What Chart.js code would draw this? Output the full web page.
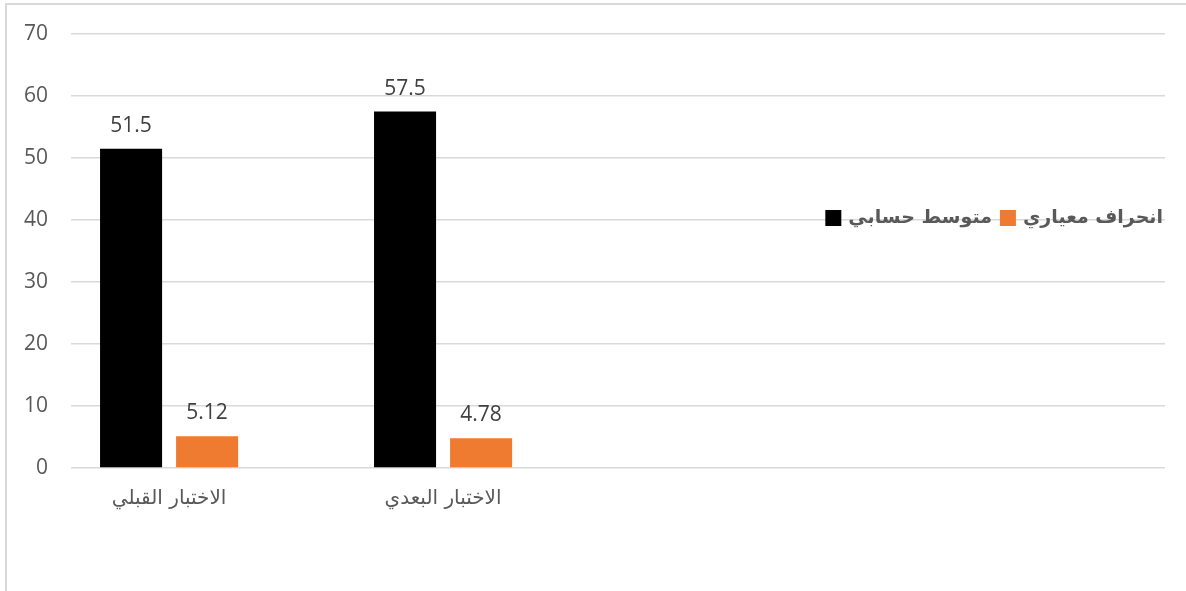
<!DOCTYPE html>
<html>
<head>
<meta charset="utf-8">
<script src="https://cdn.jsdelivr.net/npm/chart.js@4/dist/chart.umd.min.js"></script>
<style>
  html, body { margin: 0; padding: 0; background: #fff; }
  body { width: 1186px; height: 591px; overflow: hidden; position: relative; }
  .frame {
    position: absolute; left: 5px; top: 3px;
    border-top: 2px solid #d9d9d9; border-left: 2px solid #d9d9d9;
  }
  canvas { display: block; }
</style>
</head>
<body>
<div class="frame"><canvas id="chart" width="1179" height="586"></canvas></div>
<script>
const categories = ["الاختبار القبلي", "الاختبار البعدي"];
const seriesNames = ["متوسط حسابي", "انحراف معياري"];
const meanValues = [51.5, 57.5];
const sdValues = [5.12, 4.78];
const yTicks = [0, 10, 20, 30, 40, 50, 60, 70];

const TEXT = "#595959";
const GRID = "#d9d9d9";

// values written above each bar
const valueLabels = {
  id: "valueLabels",
  afterDatasetsDraw(chart) {
    const { ctx } = chart;
    ctx.save();
    ctx.font = '21px "Open Sans"';
    ctx.fillStyle = "#404040";
    ctx.textAlign = "center";
    ctx.textBaseline = "alphabetic";
    chart.data.datasets.forEach((ds, i) => {
      chart.getDatasetMeta(i).data.forEach((bar, j) => {
        ctx.fillText(String(ds.data[j].y), bar.x, bar.y - 17);
      });
    });
    ctx.restore();
  }
};

// legend sits inside the plot, right aligned, like the original
const insideLegend = {
  id: "insideLegend",
  afterDraw(chart) {
    const { ctx, chartArea } = chart;
    const box = 16, gap = 7, itemGap = 8;
    ctx.save();
    ctx.font = 'bold 19px "DejaVu Sans"';
    ctx.textBaseline = "middle";
    ctx.textAlign = "left";
    const items = chart.data.datasets.map(ds => ({
      text: ds.label,
      color: ds.backgroundColor,
      w: ctx.measureText(ds.label).width
    }));
    let total = itemGap * (items.length - 1);
    items.forEach(it => { total += box + gap + it.w; });
    let x = chartArea.right - 2 - total;
    const y = chartArea.top + 184;
    items.forEach(it => {
      ctx.fillStyle = it.color;
      ctx.fillRect(x, y - box / 2, box, box);
      x += box + gap;
      ctx.fillStyle = TEXT;
      ctx.fillText(it.text, x, y);
      x += it.w + itemGap;
    });
    ctx.restore();
  }
};

new Chart(document.getElementById("chart"), {
  type: "bar",
  data: {
    datasets: [
      {
        label: seriesNames[0],
        data: meanValues.map((v, i) => ({ x: i, y: v })),
        backgroundColor: "#000000"
      },
      {
        label: seriesNames[1],
        data: sdValues.map((v, i) => ({ x: i, y: v })),
        backgroundColor: "#EE7B30"
      }
    ]
  },
  options: {
    responsive: false,
    animation: false,
    categoryPercentage: 0.555,
    barPercentage: 0.816,
    layout: { padding: { top: 29, right: 21, left: 0, bottom: 63 } },
    scales: {
      x: {
        type: "linear",
        offset: false,
        min: -0.358,
        max: 3.635,
        grid: { display: false, offset: false },
        border: { display: false },
        ticks: {
          stepSize: 1,
          includeBounds: false,
          autoSkip: false,
          maxRotation: 0,
          padding: 11,
          color: TEXT,
          font: { family: "DejaVu Sans", size: 20 },
          callback: v => categories[v] || ""
        },
        afterFit: s => { s.height = 60; }
      },
      y: {
        min: yTicks[0],
        max: yTicks[yTicks.length - 1],
        grid: { color: GRID, lineWidth: 1.5, drawTicks: false },
        border: { display: false },
        ticks: {
          stepSize: 10,
          padding: 23,
          color: TEXT,
          font: { family: "Open Sans", size: 21 }
        },
        afterFit: s => {
          s.width = 64;
          s.paddingTop = 0;
          s.paddingBottom = 0;
        }
      }
    },
    plugins: {
      legend: { display: false },
      tooltip: { enabled: false }
    }
  },
  plugins: [valueLabels, insideLegend]
});
</script>
</body>
</html>
